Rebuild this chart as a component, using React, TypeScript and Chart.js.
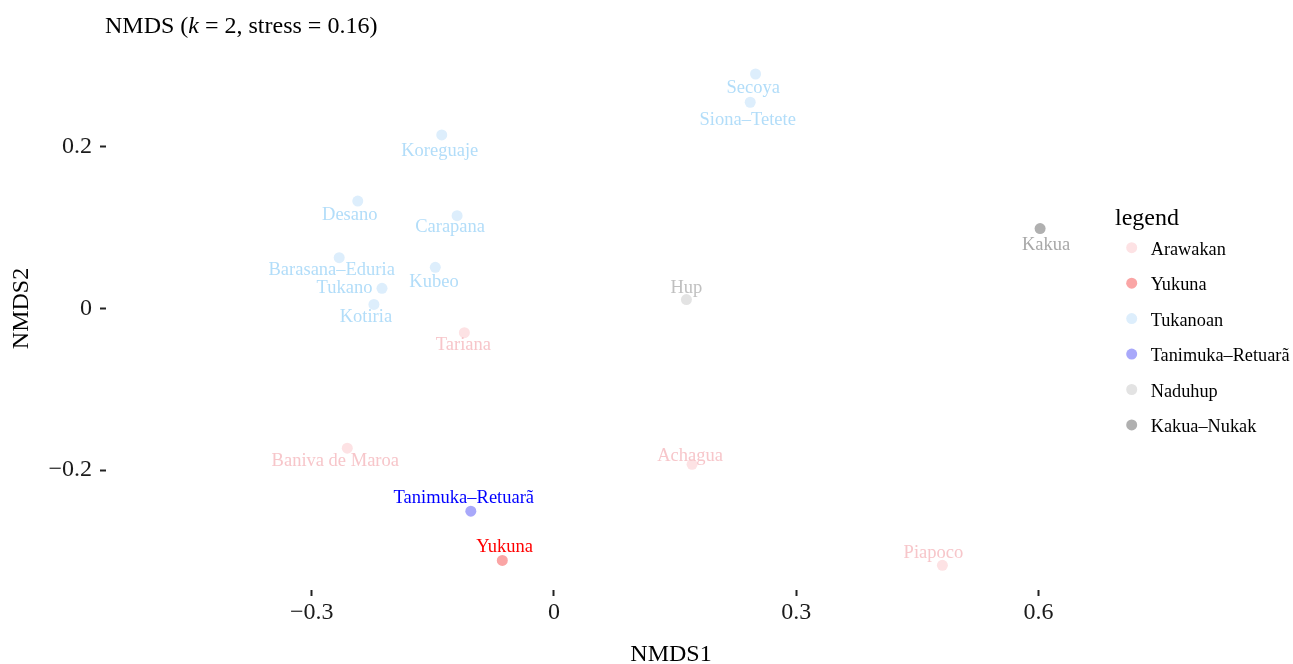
import React, { useEffect, useRef } from "react";
import { Chart, registerables } from "chart.js";

Chart.register(...registerables);

// ---- data ----
const groupNames = ["Arawakan", "Yukuna", "Tukanoan", "Tanimuka–Retuarã", "Naduhup", "Kakua–Nukak"];
const groupPointColors = [
  "rgb(253,226,228)",
  "rgb(250,165,165)",
  "rgb(221,238,252)",
  "rgb(168,168,250)",
  "rgb(227,227,227)",
  "rgb(176,176,176)",
];
const groupLabelColors = [
  "rgb(247,198,202)",
  "rgb(255,0,0)",
  "rgb(178,221,249)",
  "rgb(0,0,255)",
  "rgb(192,192,192)",
  "rgb(168,168,168)",
];

const languages = [
  "Secoya", "Siona–Tetete", "Koreguaje", "Desano", "Carapana", "Barasana–Eduria",
  "Tukano", "Kubeo", "Kotiria", "Tariana", "Hup", "Kakua", "Baniva de Maroa",
  "Achagua", "Tanimuka–Retuarã", "Yukuna", "Piapoco",
];
const languageGroup = [
  "Tukanoan", "Tukanoan", "Tukanoan", "Tukanoan", "Tukanoan", "Tukanoan",
  "Tukanoan", "Tukanoan", "Tukanoan", "Arawakan", "Naduhup", "Kakua–Nukak", "Arawakan",
  "Arawakan", "Tanimuka–Retuarã", "Yukuna", "Arawakan",
];
const nmds1 = [0.2496, 0.243, -0.139, -0.243, -0.12, -0.266, -0.213, -0.147, -0.223, -0.111, 0.164, 0.602, -0.256, 0.171, -0.103, -0.064, 0.481];
const nmds2 = [0.2904, 0.2554, 0.215, 0.133, 0.115, 0.063, 0.025, 0.051, 0.005, -0.03, 0.011, 0.099, -0.173, -0.193, -0.251, -0.312, -0.318];

const xTicks = [-0.3, 0, 0.3, 0.6];
const yTicks = [-0.2, 0, 0.2];

// label placement (pixel offsets of label centre from its point)
const labelOffsets: [number, number][] = [
  [-2.3, 12.7], [-2.5, 17], [-2, 15], [-8, 13], [-7, 10], [-7.5, 11],
  [-37.5, -1.4], [-1.3, 13.4], [-8, 12], [-1, 11], [0, -12.6], [6, 15], [-12, 12],
  [-2, -9], [-7, -14.3], [2.3, -14.7], [-9, -13.3],
];

const FONT = '"Liberation Serif", "Times New Roman", serif';

const fmt = (v: number) => (v === 0 ? "0" : v < 0 ? "\u2212" + Math.abs(v) : String(v));

const textPlugin = {
  id: "nmdsText",
  afterDatasetsDraw(chart: any) {
    const ctx = chart.ctx as CanvasRenderingContext2D;
    ctx.save();
    // point labels
    ctx.font = `18.5px ${FONT}`;
    ctx.textAlign = "center";
    ctx.textBaseline = "alphabetic";
    chart.data.datasets.forEach((ds: any, di: number) => {
      const meta = chart.getDatasetMeta(di);
      meta.data.forEach((pt: any, j: number) => {
        const idx = ds.langIdx[j];
        const off = labelOffsets[idx];
        ctx.fillStyle = groupLabelColors[di];
        ctx.fillText(languages[idx], pt.x + off[0], pt.y + off[1] + 6);
      });
    });

    // title with italic k
    ctx.textAlign = "left";
    ctx.fillStyle = "#000";
    const parts: [string, boolean][] = [["NMDS (", false], ["k", true], [" = 2, stress = 0.16)", false]];
    let tx = 105;
    for (const [s, it] of parts) {
      ctx.font = `${it ? "italic " : ""}24px ${FONT}`;
      ctx.fillText(s, tx, 33);
      tx += ctx.measureText(s).width;
    }

    // legend
    ctx.font = `24px ${FONT}`;
    ctx.fillStyle = "#000";
    ctx.fillText("legend", 1115, 225);
    ctx.font = `18.3px ${FONT}`;
    groupNames.forEach((g, i) => {
      const cy = 247.7 + i * 35.45;
      ctx.beginPath();
      ctx.arc(1131.7, cy, 5.5, 0, Math.PI * 2);
      ctx.fillStyle = groupPointColors[i];
      ctx.fill();
      ctx.fillStyle = "#000";
      ctx.fillText(g, 1150.7, cy + 7.3);
    });
    ctx.restore();
  },
};

export default function App() {
  const ref = useRef<HTMLCanvasElement | null>(null);
  useEffect(() => {
    if (!ref.current) return;
    const datasets = groupNames.map((g, gi) => {
      const idxs = languages.map((_, i) => i).filter((i) => languageGroup[i] === g);
      return {
        label: g,
        langIdx: idxs,
        data: idxs.map((i) => ({ x: nmds1[i], y: nmds2[i] })),
        backgroundColor: groupPointColors[gi],
        borderWidth: 0,
        pointRadius: 5.5,
        pointHoverRadius: 5.5,
      };
    });
    const tickFont = { family: FONT, size: 24, lineHeight: 1 };
    const chart = new Chart(ref.current, {
      type: "scatter",
      data: { datasets: datasets as any },
      options: {
        animation: false,
        responsive: false,
        events: [],
        layout: { padding: { top: 27, right: 57, left: 0, bottom: 0 } },
        plugins: { legend: { display: false }, tooltip: { enabled: false }, title: { display: false } },
        scales: {
          x: {
            type: "linear",
            min: -0.5548,
            max: 0.8446,
            afterBuildTicks: (s: any) => {
              s.ticks = xTicks.map((v) => ({ value: v }));
            },
            afterFit: (s: any) => {
              s.height = 74;
            },
            ticks: { font: tickFont, color: "#1a1a1a", padding: 5, callback: (v: any) => fmt(Number(v)), maxRotation: 0, autoSkip: false },
            grid: { display: true, drawOnChartArea: false, drawTicks: true, tickLength: 6, tickWidth: 2, tickColor: "#222", color: "transparent" },
            border: { display: false },
            title: { display: true, text: "NMDS1", font: { family: FONT, size: 24, lineHeight: 1 }, color: "#000", padding: { top: 0, bottom: -3 } },
          },
          y: {
            type: "linear",
            min: -0.3486,
            max: 0.3486,
            afterBuildTicks: (s: any) => {
              s.ticks = yTicks.map((v) => ({ value: v }));
            },
            afterFit: (s: any) => {
              s.width = 106;
            },
            ticks: { font: tickFont, color: "#1a1a1a", padding: 8, callback: (v: any) => fmt(Number(v)), autoSkip: false },
            grid: { display: true, drawOnChartArea: false, drawTicks: true, tickLength: 6, tickWidth: 2, tickColor: "#222", color: "transparent" },
            border: { display: false },
            title: { display: true, text: "NMDS2", font: { family: FONT, size: 24, lineHeight: 1 }, color: "#000", padding: { top: 10, bottom: 0 } },
          },
        },
      } as any,
      plugins: [textPlugin as any],
    });
    return () => chart.destroy();
  }, []);
  return (
    <div style={{ position: "absolute", left: 0, top: 0, width: 1293, height: 664, background: "#fff" }}>
      <canvas ref={ref} width={1293} height={664} style={{ display: "block", width: 1293, height: 664 }} />
    </div>
  );
}
